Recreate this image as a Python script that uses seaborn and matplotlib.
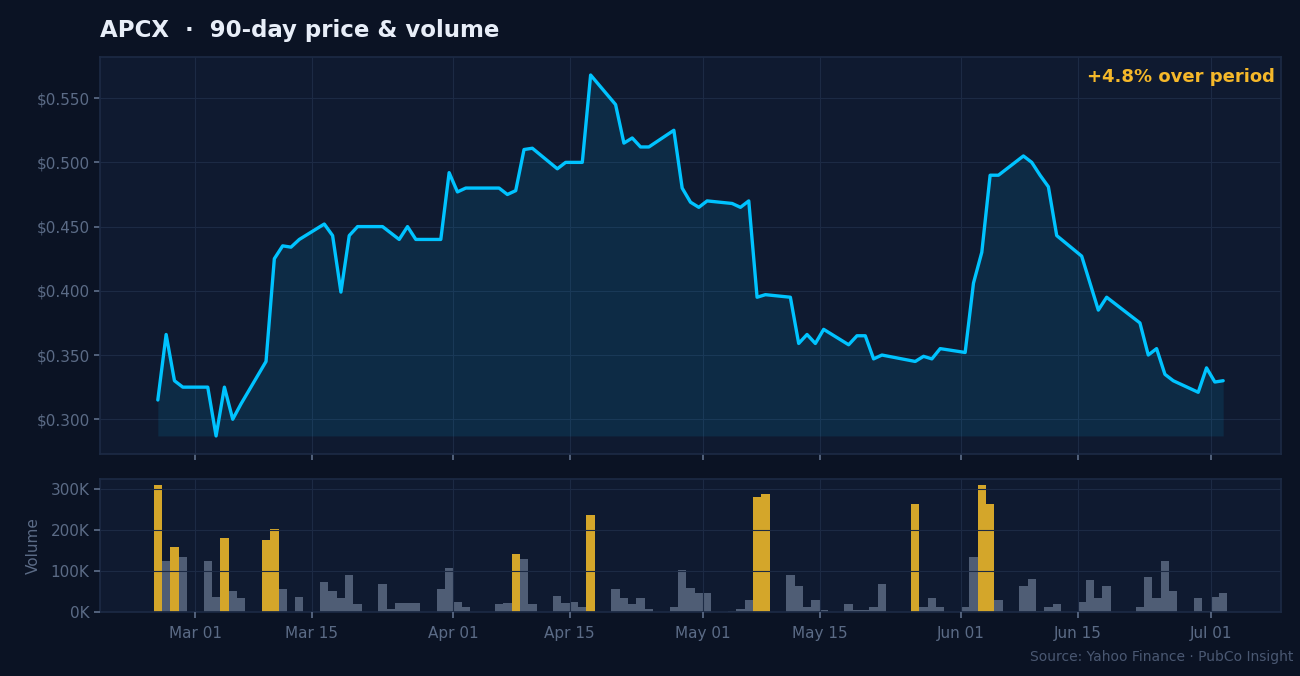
import numpy as np
import pandas as pd
import seaborn as sns
import matplotlib.pyplot as plt
import matplotlib.dates as mdates
from matplotlib.ticker import FuncFormatter, MultipleLocator

# trading days (NYSE calendar, holidays removed)
holidays = ["2026-04-03", "2026-05-25", "2026-06-19"]
days = pd.bdate_range("2026-02-24", "2026-07-02", freq="C", holidays=holidays)

price = [
    0.315, 0.366, 0.330, 0.325,
    0.325, 0.287, 0.325, 0.300, 0.312,
    0.345, 0.425, 0.435, 0.434, 0.440,
    0.452, 0.443, 0.399, 0.443, 0.450,
    0.450, 0.445, 0.440, 0.450, 0.440,
    0.440, 0.492, 0.477, 0.480,
    0.480, 0.475, 0.478, 0.510, 0.511,
    0.495, 0.500, 0.500, 0.500, 0.568,
    0.545, 0.515, 0.519, 0.512, 0.512,
    0.525, 0.480, 0.469, 0.465, 0.470,
    0.468, 0.465, 0.470, 0.395, 0.397,
    0.395, 0.359, 0.366, 0.359, 0.370,
    0.358, 0.365, 0.365, 0.347, 0.350,
    0.345, 0.349, 0.347, 0.355,
    0.352, 0.406, 0.430, 0.490, 0.490,
    0.505, 0.500, 0.490, 0.481, 0.443,
    0.427, 0.406, 0.385, 0.395,
    0.375, 0.350, 0.355, 0.335, 0.330,
    0.321, 0.340, 0.329, 0.330,
]

# volume in thousands of shares
volume_k = [
    308, 125, 157, 134,
    125, 37, 179, 52, 35,
    174, 203, 57, 0, 37,
    72, 52, 33, 91, 20,
    67, 8, 23, 23, 23,
    57, 106, 25, 11,
    20, 23, 140, 130, 20,
    40, 23, 25, 11, 235,
    57, 33, 20, 35, 8,
    11, 101, 59, 47, 45,
    3, 8, 28, 279, 286,
    91, 62, 11, 28, 6,
    20, 6, 6, 11, 69,
    262, 11, 35, 13,
    13, 134, 308, 262, 30,
    62, 81, 3, 13, 20,
    25, 79, 35, 62,
    13, 84, 33, 123, 50,
    33, 3, 37, 45,
]

BG = "#0b1324"
PANEL = "#0f1a30"
GRID = "#1c2a44"
TXT = "#5b6b86"
CYAN = "#00c3ff"
GOLD = "#d4a62a"
SLATE = "#4f5d75"

df = pd.DataFrame({"date": days + pd.Timedelta(hours=12),
                   "price": price,
                   "volume": np.array(volume_k) * 1000})
df["xnum"] = mdates.date2num(df["date"])
df["spike"] = df["volume"] > 2 * df["volume"].mean()

sns.set_theme(style="darkgrid", rc={
    "figure.facecolor": BG,
    "axes.facecolor": PANEL,
    "axes.edgecolor": GRID,
    "grid.color": GRID,
    "grid.linewidth": 0.8,
    "xtick.color": TXT,
    "ytick.color": TXT,
    "axes.labelcolor": TXT,
    "xtick.bottom": True,
    "ytick.left": True,
    "xtick.major.size": 4,
    "ytick.major.size": 4,
    "xtick.major.pad": 6,
})
plt.rcParams["font.family"] = ["DejaVu Sans"]

fig = plt.figure(figsize=(13, 6.76), dpi=100)
ax1 = fig.add_axes([0.0769, 0.3284, 0.9085, 0.5873])
ax2 = fig.add_axes([0.0769, 0.0947, 0.9085, 0.1967], sharex=ax1)

# price line + fill
sns.lineplot(data=df, x="xnum", y="price", ax=ax1, color=CYAN, linewidth=2.4)
ax1.fill_between(df["xnum"], df["price"], df["price"].min(),
                 color=CYAN, alpha=0.1, linewidth=0)
ax1.set_xlabel("")
ax1.set_ylabel("")
ax1.yaxis.set_major_locator(MultipleLocator(0.05))
ax1.yaxis.set_major_formatter(FuncFormatter(lambda v, p: f"${v:.3f}"))
ax1.tick_params(labelsize=11, labelbottom=False)

chg = (price[-1] / price[0] - 1) * 100
ax1.text(0.995, 0.95, f"{chg:+.1f}% over period", transform=ax1.transAxes,
         ha="right", va="center", color="#f5b82a", fontsize=13, fontweight="bold")

# volume bars
sns.barplot(data=df, x="xnum", y="volume", hue="spike", ax=ax2,
            palette={True: GOLD, False: SLATE}, native_scale=True,
            width=1, dodge=False, legend=False, errorbar=None, saturation=1,
            linewidth=0)
ax2.set_axisbelow(False)
ax2.set_xlabel("")
ax2.set_ylabel("Volume", fontsize=11, labelpad=7)
ax2.yaxis.set_major_locator(MultipleLocator(100000))
ax2.yaxis.set_major_formatter(FuncFormatter(lambda v, p: f"{v/1000:.0f}K"))
ax2.tick_params(labelsize=11)
ax2.xaxis.set_major_locator(mdates.DayLocator(bymonthday=[1, 15]))
ax2.xaxis.set_major_formatter(mdates.DateFormatter("%b %d"))

fig.text(0.077, 0.955, "APCX  \u00b7  90-day price & volume", color="#e8eef8",
         fontsize=16.5, fontweight="bold", va="center", ha="left")
fig.text(0.995, 0.028, "Source: Yahoo Finance \u00b7 PubCo Insight", color="#4a5872",
         fontsize=10, ha="right", va="center")

fig.savefig("out.png", dpi=100, facecolor=BG)
